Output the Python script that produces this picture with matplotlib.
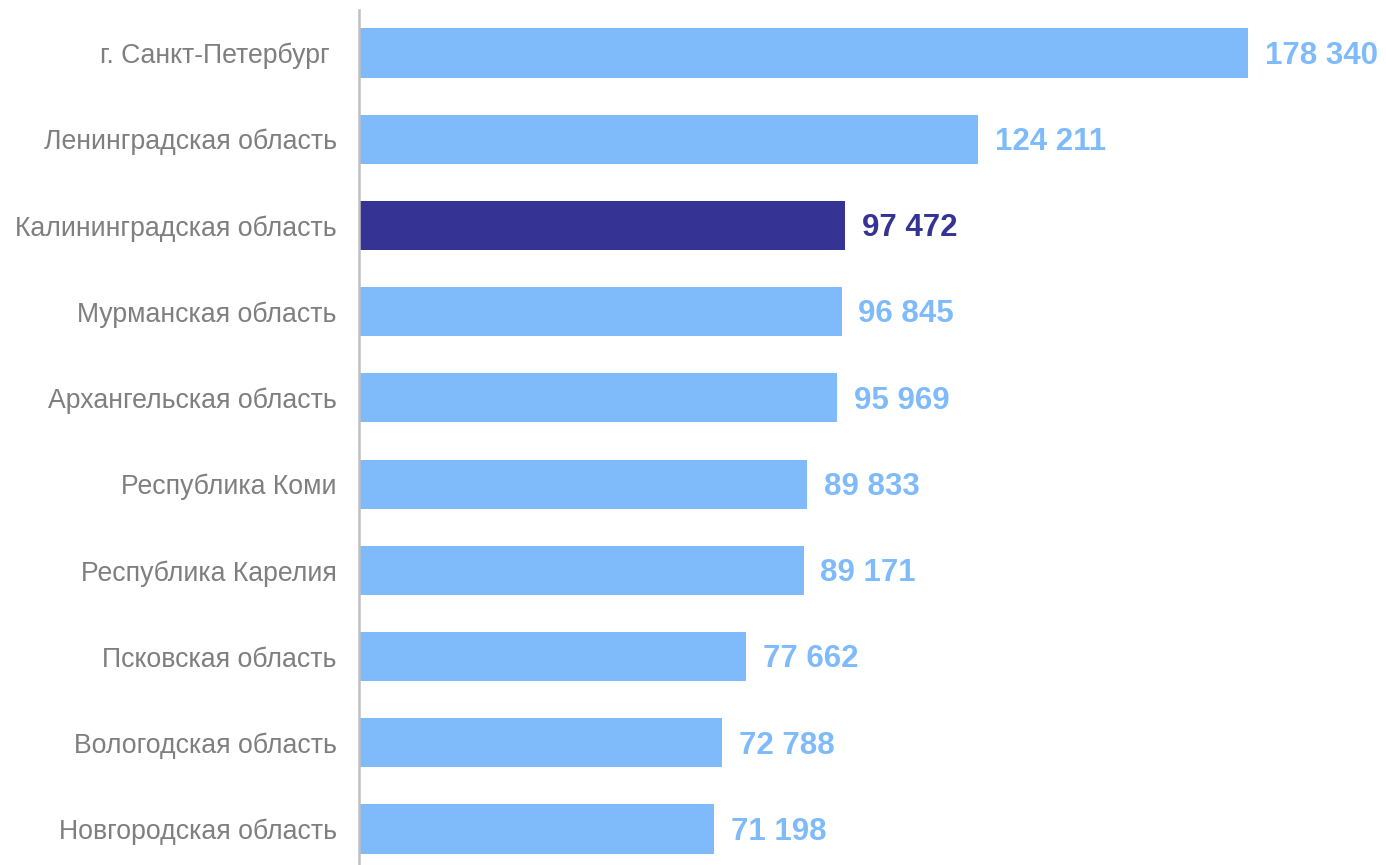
import numpy as np
import matplotlib.pyplot as plt

plt.rcParams['font.family'] = ['Liberation Sans', 'DejaVu Sans']

regions = [
    'г. Санкт-Петербург ',
    'Ленинградская область',
    'Калининградская область',
    'Мурманская область',
    'Архангельская область',
    'Республика Коми',
    'Республика Карелия',
    'Псковская область',
    'Вологодская область',
    'Новгородская область',
]
values = [178340, 124211, 97472, 96845, 95969, 89833, 89171, 77662, 72788, 71198]
highlight = 'Калининградская область'

light = '#7fbbfb'
dark = '#353394'

fig = plt.figure(figsize=[13.86, 8.65], dpi=100)
ax = fig.add_axes([359 / 1386, 0, 1 - 359 / 1386, 1 - 10 / 865])

ypos = np.arange(len(regions))
colors = [dark if r == highlight else light for r in regions]
ax.barh(ypos, values, height=0.57, color=colors)

for y, v, c in zip(ypos, values, colors):
    ax.annotate(f'{v:,}'.replace(',', ' '), xy=(v, y), xytext=(12, -2),
                textcoords='offset points', va='center', ha='left',
                fontsize=22.5, fontweight='bold', color=c)

ax.set_xlim(0, 206000)
ax.set_ylim(9 + 36 / 86.2, -43 / 86.2)
ax.set_yticks(ypos)
ax.set_yticklabels(regions, fontsize=19.2, color='#7f7f7f')
ax.tick_params(axis='y', length=0, pad=16)
ax.set_xticks([])
for side in ['top', 'right', 'bottom']:
    ax.spines[side].set_visible(False)
ax.spines['left'].set_color('#c0c0c0')
ax.spines['left'].set_linewidth(1.8)

plt.savefig('out.png', dpi=100)
